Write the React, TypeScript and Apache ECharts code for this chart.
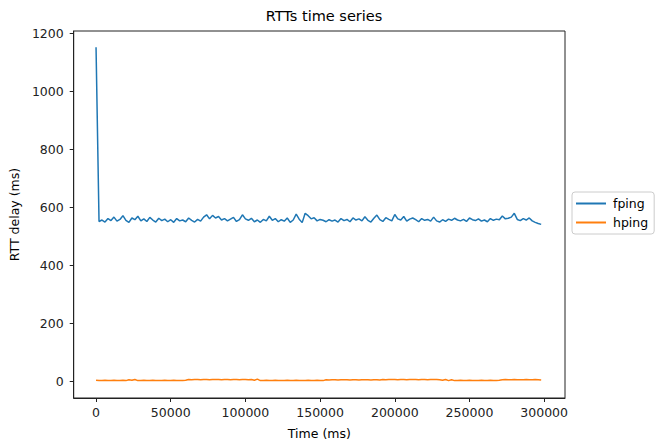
import React, { useEffect, useRef } from "react";
import * as echarts from "echarts";

const SAMPLE_STEP_MS = 2000;

const fpingRtt = [
  1152, 551, 556, 549, 561, 554, 566, 552, 558, 571,
  555, 548, 563, 557, 569, 553, 560, 551, 565, 556,
  549, 562, 554, 559, 550, 557, 548, 561, 553, 556,
  550, 563, 555, 549, 558, 552, 566, 574, 560, 572,
  563, 568, 556, 561, 553, 559, 565, 551, 557, 574,
  560, 555, 562, 550, 556, 548, 558, 553, 569, 555,
  561, 550, 557, 552, 563, 548, 556, 576, 559, 547,
  579, 571, 560, 564, 553, 558, 555, 550, 557, 552,
  556, 549, 561, 554, 558, 550, 563, 556, 560, 553,
  567, 555, 549, 562, 573, 557, 551, 564, 558, 553,
  575, 560, 556, 568, 552, 559, 563, 557, 550, 561,
  555, 558, 552, 566, 553, 549, 557, 551, 559, 555,
  562, 556, 553, 558, 551, 563, 557, 554, 560, 552,
  556, 550, 561, 555, 559, 557, 570, 560, 562, 566,
  579, 558, 554, 561, 556, 563, 553, 548, 544, 541,
];

const hpingRtt = [
  3, 2, 2, 3, 2, 2, 3, 2, 2, 3, 2,
  5, 3, 6, 2,
  2, 3, 2, 2, 3, 2, 2, 2, 3, 2, 2, 3, 2, 2, 2, 3,
  6, 5, 6, 6, 5, 6, 6, 5, 6, 6, 6, 5, 6, 6, 5, 6, 6, 5, 6, 6, 5, 6,
  3, 7, 2,
  2, 3, 2, 2, 3, 2, 2, 2, 3, 2, 2, 3, 2, 2, 2, 3, 2, 2, 3, 2, 2,
  5, 4, 5, 5, 4, 5, 5, 5, 4, 5, 5, 4, 5, 5, 5, 4, 5, 5, 4,
  6, 5, 6, 6, 6, 5, 6, 6, 5, 6, 6, 6, 5, 6, 6, 5, 6, 6, 6, 5,
  3, 6, 2, 5,
  2, 2, 3, 2, 2, 3, 2, 2, 2, 3, 2, 2, 3, 2, 2, 3,
  5, 6, 5, 5, 6, 5, 5, 5, 6, 5, 5, 6, 5, 4,
];

const xTicks = [0, 50000, 100000, 150000, 200000, 250000, 300000];
const yTicks = [0, 200, 400, 600, 800, 1000, 1200];

const toPairs = (vals: number[]) => vals.map((v, i) => [i * SAMPLE_STEP_MS, v]);

export default function App() {
  const ref = useRef<HTMLDivElement>(null);
  useEffect(() => {
    document.body.style.margin = "0";
    const chart = echarts.init(ref.current!, null, { renderer: "svg" });
    const font = "DejaVu Sans";
    const axisColor = "#222";
    const tickFont = 12.5;
    chart.setOption({
      animation: false,
      backgroundColor: "#fff",
      textStyle: { fontFamily: font },
      title: {
        text: "RTTs time series",
        left: 319,
        textAlign: "center",
        top: 3,
        textStyle: { fontFamily: font, fontSize: 14.5, fontWeight: "normal", color: "#000" },
      },
      legend: {
        orient: "vertical",
        left: 572,
        top: 192,
        padding: [5, 6, 5, 4],
        itemGap: 6,
        itemWidth: 30,
        itemHeight: 2,
        icon: "rect",
        borderColor: "#ccc",
        borderWidth: 1,
        borderRadius: 3,
        textStyle: { fontFamily: font, fontSize: 12.5, color: "#000", padding: [0, 0, 0, 2] },
        data: ["fping", "hping"],
      },
      grid: {
        left: 73,
        right: 90,
        top: 31,
        bottom: 47,
        show: true,
        borderColor: axisColor,
        borderWidth: 1,
        containLabel: false,
      },
      xAxis: {
        type: "value",
        min: -14950,
        max: 313950,
        name: "Time (ms)",
        nameLocation: "middle",
        nameGap: 29,
        nameTextStyle: { fontFamily: font, fontSize: 12.5, color: "#000" },
        splitLine: { show: false },
        axisLine: { show: true, onZero: false, lineStyle: { color: axisColor } },
        axisTick: { show: true, length: 4, inside: false, customValues: xTicks, lineStyle: { color: axisColor } },
        axisLabel: {
          customValues: xTicks,
          formatter: (v: number) => String(v),
          fontSize: tickFont,
          color: "#222",
          margin: 8,
          fontFamily: font,
        },
      },
      yAxis: {
        type: "value",
        min: -58,
        max: 1208,
        name: "RTT delay (ms)",
        nameLocation: "middle",
        nameGap: 52,
        nameRotate: 90,
        nameTextStyle: { fontFamily: font, fontSize: 12.5, color: "#000" },
        splitLine: { show: false },
        axisLine: { show: true, onZero: false, lineStyle: { color: axisColor } },
        axisTick: { show: true, length: 4, customValues: yTicks, lineStyle: { color: axisColor } },
        axisLabel: {
          customValues: yTicks,
          formatter: (v: number) => String(v),
          fontSize: tickFont,
          color: "#222",
          margin: 10,
          fontFamily: font,
        },
      },
      series: [
        {
          name: "fping",
          type: "line",
          data: toPairs(fpingRtt),
          showSymbol: false,
          symbol: "none",
          lineStyle: { color: "#1f77b4", width: 1.5 },
          itemStyle: { color: "#1f77b4" },
        },
        {
          name: "hping",
          type: "line",
          data: toPairs(hpingRtt),
          showSymbol: false,
          symbol: "none",
          lineStyle: { color: "#ff7f0e", width: 1.5 },
          itemStyle: { color: "#ff7f0e" },
        },
      ],
    });
    return () => chart.dispose();
  }, []);
  return <div ref={ref} style={{ width: 655, height: 445 }} />;
}
